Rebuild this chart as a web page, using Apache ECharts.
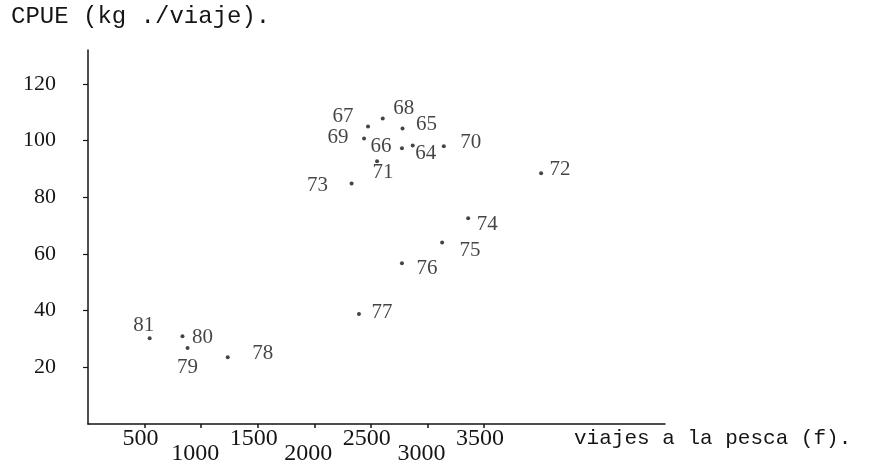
<!DOCTYPE html>
<html>
<head>
<meta charset="utf-8">
<script src="https://cdn.jsdelivr.net/npm/echarts@6/dist/echarts.min.js"></script>
<style>
  html, body { margin: 0; padding: 0; background: #fff; }
  #main { width: 873px; height: 470px; }
</style>
</head>
<body>
<div id="main"></div>
<script>
// datos (año, viajes, CPUE)
var years = ['64', '65', '66', '67', '68', '69', '70', '71', '72', '73', '74', '75', '76', '77', '78', '79', '80', '81'];
var trips = [2870, 2780, 2775, 2475, 2605, 2440, 3145, 2555, 4005, 2330, 3360, 3130, 2775, 2395, 1235, 880, 835, 545];
var cpue = [98.3, 104.3, 97.3, 105.0, 107.8, 100.8, 98.0, 92.7, 88.5, 84.9, 72.6, 64.1, 56.7, 38.8, 23.6, 26.8, 31.0, 30.3];
var yTicks = [20, 40, 60, 80, 100, 120];
var xTicksUp = [500, 1500, 2500, 3500];
var xTicksDown = [1000, 2000, 3000];

// donde va cada etiqueta respecto al punto (px)
var labelOffsets = {
  '64': [13, 8], '65': [24, -4], '66': [-21, -2], '67': [-25, -10], '68': [21, -10],
  '69': [-26, -1], '70': [27, -4], '71': [6, 11], '72': [19, -4], '73': [-34, 2],
  '74': [19, 6], '75': [28, 8], '76': [25, 5], '77': [23, -2], '78': [35, -4],
  '79': [0, 19], '80': [20, 1], '81': [-6, -13]
};

var points = [];
years.forEach(function (y, i) {
  points.push({
    name: y,
    value: [trips[i], cpue[i]],
    label: { offset: labelOffsets[y] || [15, 0] }
  });
});

var ink = '#151515';
var numFont = 'Liberation Serif';
var typeFont = 'Liberation Mono';

function plain(v) {
  return String(v);
}

var option = {
  animation: false,
  backgroundColor: '#fff',
  grid: {
    left: 88,
    right: 208,
    top: 50,
    bottom: 46
  },
  graphic: [
    {
      type: 'text',
      left: 11,
      top: 5,
      style: { text: 'CPUE (kg ./viaje).', fill: ink, font: '24px ' + typeFont }
    },
    {
      type: 'text',
      left: 574,
      top: 428,
      style: { text: 'viajes a la pesca (f).', fill: ink, font: '21px ' + typeFont }
    }
  ],
  xAxis: [
    {
      type: 'value',
      min: 0,
      max: 5100,
      splitLine: { show: false },
      axisLine: { lineStyle: { color: ink, width: 1.5 } },
      axisTick: { customValues: xTicksUp.concat(xTicksDown), length: 4, lineStyle: { color: ink, width: 1.5 } },
      axisLabel: {
        customValues: xTicksUp,
        formatter: plain,
        margin: 3,
        color: ink,
        fontFamily: numFont,
        fontSize: 24,
        padding: [0, 8, 0, 0]
      }
    },
    {
      type: 'value',
      position: 'bottom',
      min: 0,
      max: 5100,
      splitLine: { show: false },
      axisLine: { show: false },
      axisTick: { show: false },
      axisLabel: {
        customValues: xTicksDown,
        formatter: plain,
        margin: 18,
        color: ink,
        fontFamily: numFont,
        fontSize: 24,
        padding: [0, 12, 0, 0]
      }
    }
  ],
  yAxis: {
    type: 'value',
    min: 0,
    max: 132,
    splitLine: { show: false },
    axisLine: { show: true, lineStyle: { color: ink, width: 1.5 } },
    axisTick: { customValues: yTicks, length: 5, lineStyle: { color: ink, width: 1.2 } },
    axisLabel: {
      customValues: yTicks,
      margin: 32,
      color: ink,
      fontFamily: numFont,
      fontSize: 22
    }
  },
  series: [
    {
      type: 'scatter',
      xAxisIndex: 0,
      symbol: 'circle',
      symbolSize: 4,
      itemStyle: { color: ink },
      label: {
        show: true,
        position: 'inside',
        formatter: '{b}',
        color: ink,
        fontFamily: numFont,
        fontSize: 21
      },
      data: points
    }
  ]
};

var chart = echarts.init(document.getElementById('main'), null, { renderer: 'canvas' });
chart.setOption(option);
</script>
</body>
</html>
